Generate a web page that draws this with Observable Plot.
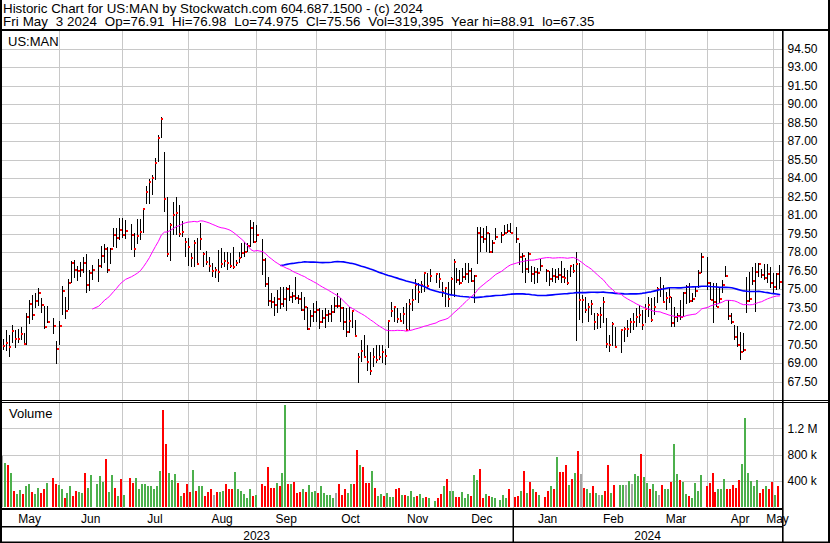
<!DOCTYPE html>
<html><head><meta charset="utf-8">
<script src="https://cdn.jsdelivr.net/npm/d3@7"></script>
<script src="https://cdn.jsdelivr.net/npm/@observablehq/plot@0.6"></script>
<style>
html,body{margin:0;padding:0;background:#fff;}
#chart{position:relative;width:830px;height:543px;overflow:hidden;background:#fff;}
</style></head>
<body><div id="chart"></div>
<script>
// ---------- DATA ----------
const ticker = "US:MAN";
const titleLine1 = "Historic Chart for US:MAN by Stockwatch.com 604.687.1500 - (c) 2024";
const titleLine2 = "Fri May  3 2024  Op=76.91  Hi=76.98  Lo=74.975  Cl=75.56  Vol=319,395  Year hi=88.91  lo=67.35";
const startDate = "2023-05-05";
const endDate = "2024-05-03";
const holidays = ["2023-05-29","2023-06-19","2023-07-04","2023-09-04","2023-11-23","2023-12-25","2024-01-01","2024-01-15","2024-02-19","2024-03-29"];
const priceTicks = [67.5,69,70.5,72,73.5,75,76.5,78,79.5,81,82.5,84,85.5,87,88.5,90,91.5,93,94.5];
const volumeTicks = [400000, 800000, 1200000];
const volumeTickLabels = ["400 k", "800 k", "1.2 M"];

const high = [
70.92,71.68,71.27,72.05,71.68,71.73,71.89,71.41,73.03,74.11,74.51,74.70,75.05,74.24,73.62,73.62,72.62,70.81,
72.43,75.24,74.38,75.81,77.27,77.35,76.86,77.22,77.62,77.84,76.54,76.95,77.41,78.51,78.65,78.43,78.35,79.92,79.92,80.73,80.73,
80.59,80.27,79.51,80.68,80.68,81.54,83.35,83.89,84.24,85.59,87.49,88.91,86.08,82.49,80.32,82.03,82.43,81.81,80.54,79.11,
79.11,77.89,78.97,79.11,80.32,78.03,78.11,77.62,77.14,76.76,78.16,78.30,78.03,78.03,77.89,78.43,77.35,78.03,78.70,78.84,78.70,80.59,80.41,
80.19,79.03,77.49,76.00,74.70,74.38,74.92,75.19,75.14,75.19,75.32,74.78,75.95,74.51,74.78,74.38,73.57,73.30,73.84,74.03,
73.43,73.30,73.49,73.30,73.70,74.38,74.70,74.24,73.57,73.43,73.57,73.30,72.49,69.78,70.86,71.27,70.46,69.92,70.19,70.46,70.46,70.46,
70.11,72.49,73.97,73.62,73.43,73.03,73.51,73.89,74.16,74.97,75.81,75.51,75.68,76.41,76.27,76.59,76.32,76.27,75.59,75.14,75.59,
76.00,77.41,76.68,76.54,76.68,77.08,77.08,76.68,76.14,80.05,80.05,79.92,80.11,79.51,78.97,79.92,79.65,80.19,80.27,80.32,
80.05,78.70,77.95,77.49,78.03,76.86,76.81,76.68,77.41,76.59,76.49,76.68,76.59,76.68,77.24,76.68,76.54,76.95,77.03,78.00,77.08,
74.51,74.38,73.84,74.11,73.03,73.03,73.57,74.38,72.62,71.27,72.35,71.95,71.73,71.95,72.49,72.62,73.03,73.43,73.70,73.30,
73.78,74.38,74.24,74.38,75.14,76.00,75.32,74.78,75.05,74.38,73.57,73.03,74.11,74.78,75.32,75.46,74.65,75.19,76.54,77.89,
77.62,75.59,75.46,75.46,75.19,75.73,76.86,74.11,73.03,72.08,72.00,71.54,71.41,76.00,76.41,76.81,77.08,77.14,76.59,77.03,77.03,76.81,
76.32,76.27,76.98];

const low = [
70.05,70.00,69.46,70.59,70.19,70.59,70.86,70.43,70.46,72.16,72.49,73.43,73.62,73.08,71.78,72.27,71.32,68.89,
70.46,72.89,72.59,73.30,75.46,75.86,75.68,76.00,76.27,74.65,74.86,75.73,75.59,76.68,77.08,76.32,77.03,78.43,78.35,78.97,79.11,
79.08,78.16,77.62,78.65,78.97,79.51,81.86,81.86,82.62,83.84,85.32,87.22,81.27,77.62,77.30,79.38,79.38,79.24,79.24,77.62,
76.89,76.81,76.81,76.95,78.16,76.81,76.95,76.41,75.95,75.86,75.59,76.68,76.76,76.54,76.68,76.59,76.89,77.08,77.49,77.62,78.03,78.43,78.70,
78.84,76.14,75.14,73.65,73.43,72.81,73.03,73.35,73.51,73.24,74.05,73.84,74.11,73.78,73.24,72.49,71.68,71.95,72.35,72.35,
71.73,72.22,71.86,72.35,72.35,73.03,73.43,72.35,71.68,71.14,71.41,71.81,71.08,67.35,69.11,69.51,68.38,68.03,68.70,68.97,69.24,68.97,
68.84,70.19,72.76,72.35,72.27,72.35,72.16,71.68,71.68,73.24,74.11,73.89,74.65,74.78,75.00,75.57,75.46,75.05,74.38,73.51,73.51,
74.51,74.38,75.46,75.32,75.59,75.73,75.46,75.59,73.89,77.03,78.03,78.70,78.03,77.95,77.89,78.97,78.76,79.38,79.51,79.51,
78.70,76.95,76.32,75.46,76.32,75.59,75.41,75.46,76.49,75.59,75.24,75.59,75.46,75.73,75.51,75.46,75.32,76.00,76.27,70.81,72.49,
72.22,73.03,72.35,72.89,71.68,71.73,71.81,72.22,70.19,69.92,70.38,70.27,69.78,70.73,71.08,71.41,71.68,71.95,72.22,71.68,
72.27,72.76,72.35,72.89,73.84,74.38,73.84,73.30,73.84,71.95,71.89,72.35,72.49,72.76,73.78,73.89,73.97,74.32,75.05,76.27,
74.92,74.11,72.27,73.57,73.84,74.65,76.00,72.49,72.16,70.86,70.32,69.24,69.92,73.03,73.95,75.32,73.16,76.00,75.86,75.73,75.46,75.05,
74.70,74.92,74.975];

const close = [
70.41,70.65,70.32,71.62,70.92,70.97,71.35,70.54,72.76,73.81,72.92,74.05,74.70,73.73,71.95,72.35,72.03,70.16,
72.03,74.86,73.24,75.46,77.14,76.54,76.43,76.54,77.14,75.30,76.32,76.54,76.89,77.70,78.27,76.54,78.27,79.41,79.16,79.78,79.41,
79.73,79.41,78.27,79.30,79.65,81.46,82.89,83.70,83.97,85.24,87.27,88.78,82.32,77.84,80.19,81.00,81.19,79.46,79.62,78.84,
78.43,77.51,78.76,77.03,79.08,77.84,77.19,76.89,76.49,76.54,76.41,77.05,77.27,77.11,76.89,76.76,77.14,77.54,77.92,78.03,78.51,79.92,78.81,
79.41,77.35,75.43,74.03,73.92,73.73,74.19,73.78,74.19,75.03,74.38,74.43,74.30,74.19,73.30,73.57,71.76,72.81,73.11,73.30,
72.35,72.62,72.89,73.00,73.11,73.65,73.65,73.43,72.35,71.54,72.43,73.24,71.19,69.51,70.00,69.51,69.11,68.38,69.51,69.24,69.51,69.92,
69.59,72.43,73.24,73.51,72.57,72.43,73.00,71.68,73.78,74.11,75.30,74.76,75.30,76.32,75.24,76.08,76.22,75.81,74.76,75.11,74.19,
75.84,77.19,75.73,75.51,76.00,76.19,76.49,75.68,76.08,79.57,79.24,79.03,79.57,77.97,78.76,79.24,79.41,79.57,79.70,79.51,
79.08,77.62,77.70,76.65,77.86,76.24,76.41,76.32,76.89,76.49,75.84,76.05,76.00,76.16,75.95,75.92,75.51,76.89,76.49,77.05,74.11,
74.11,73.30,73.57,73.78,72.35,72.89,72.89,73.97,70.57,70.46,72.14,70.32,71.68,71.73,71.73,72.35,72.35,72.76,72.86,72.11,
73.35,73.70,72.49,73.57,75.03,75.03,73.95,74.27,74.38,72.27,72.76,72.81,72.70,74.70,75.14,74.05,74.19,74.81,76.32,77.62,
75.51,74.11,73.95,73.57,74.19,75.32,76.08,72.81,72.32,71.14,70.46,69.89,70.05,74.03,74.22,75.68,76.41,77.03,76.14,75.86,76.22,75.46,
75.19,76.22,75.56];

// volume in thousands of shares
const volumeK = [
774,667,636,513,251,205,262,200,313,344,236,205,297,221,282,369,436,344,
328,282,144,221,313,174,246,231,221,513,297,482,344,467,374,728,236,482,297,174,420,
190,436,359,436,282,344,344,313,313,267,313,544,1482,959,513,405,497,359,174,221,
344,236,559,251,313,313,174,236,267,190,236,236,251,344,267,282,528,267,251,205,144,282,174,
190,344,313,605,297,297,359,313,513,1559,344,344,374,221,236,267,236,328,236,251,
221,313,221,190,190,144,221,344,190,282,221,344,344,866,636,605,359,359,544,297,174,205,
174,221,159,159,267,297,190,190,174,251,159,174,205,144,159,144,97,144,205,313,420,
251,251,159,159,236,144,205,174,482,405,574,144,205,174,159,144,113,190,144,282,
159,174,251,544,221,374,267,236,190,159,251,313,267,759,528,528,636,328,420,513,851,
497,297,267,221,313,221,190,190,251,636,221,328,328,328,328,390,344,497,467,805,
451,359,267,344,251,190,328,267,267,374,959,497,405,374,205,174,144,359,251,482,
313,359,513,236,282,282,420,282,267,328,297,405,651,1359,513,390,313,405,221,267,313,282,
374,190,319];

// volume bar colour as seen: u = up (green), d = down (red), n = unchanged (grey)
const dirMay23 = ["n","u","d","u","d","u","u","d","u","u","d","u","u","d","d","u","d","d"];
const dirJun23 = ["u","u","d","u","u","d","d","u","u","d","u","u","u","u","u","d","u","u","d","u","d"];
const dirJul23 = ["u","d","d","u","u","u","u","u","u","u","u","u","d","d","u","u","u","d","u","d"];
const dirAug23 = ["d","d","u","d","u","u","d","d","d","n","d","u","u","d","d","d","u","u","u","u","u","u","d"];
const dirSep23 = ["u","d","d","d","d","d","u","d","u","u","d","u","d","d","d","u","d","u","u","u"];
const dirOct23 = ["d","u","u","u","u","u","n","d","d","d","u","u","d","d","u","d","d","d","u","d","u","u"];
const dirNov23 = ["d","u","u","u","d","d","u","d","u","u","u","d","u","u","d","u","u","d","d","u","d"];
const dirDec23 = ["u","u","d","d","u","u","u","d","u","u","d","d","u","d","u","u","u","u","u","d"];
const dirJan24 = ["d","d","u","d","u","d","u","d","u","d","d","u","d","u","d","d","d","u","d","u","d"];
const dirFeb24 = ["n","d","u","u","d","u","n","u","d","d","u","d","u","u","n","u","n","u","u","d"];
const dirMar24 = ["u","u","d","u","u","n","d","u","u","d","u","u","d","u","u","d","u","u","u","u"];
const dirApr24 = ["d","d","d","d","u","u","u","d","d","d","d","d","u","u","u","u","u","u","d","d","u","d"];
const dirMay24 = ["d","u","d"];
const direction = [].concat(dirMay23, dirJun23, dirJul23, dirAug23, dirSep23, dirOct23, dirNov23, dirDec23, dirJan24, dirFeb24, dirMar24, dirApr24, dirMay24);

// ---------- BUILD ----------
const FONT = "'Liberation Sans', Arial, Helvetica, sans-serif";
const parse = d3.utcParse("%Y-%m-%d");
const fmt = d3.utcFormat("%Y-%m-%d");
const weekdays = d3.utcDays(parse(startDate), d3.utcDay.offset(parse(endDate), 1)).filter(d => d.getUTCDay() % 6 !== 0);
const wIndex = new Map(weekdays.map((d, i) => [fmt(d), i]));
const tradingDays = weekdays.filter(d => !holidays.includes(fmt(d)));
const data = tradingDays.map((d, i) => ({
  date: d, w: wIndex.get(fmt(d)), high: high[i], low: low[i], close: close[i],
  vol: volumeK[i] * 1000, dir: direction[i] || "n"
}));

// month gridlines: first weekday slot of each month (weekend starts fall back to the Friday before)
const monthStarts = d3.utcMonths(d3.utcMonth.ceil(parse(startDate)), parse(endDate));
const slotOf = d => { const day = d.getUTCDay(); const s = day === 6 ? d3.utcDay.offset(d, -1) : day === 0 ? d3.utcDay.offset(d, -2) : d; return wIndex.get(fmt(s)); };
const monthW = monthStarts.map(slotOf);

const xScale = {type: "linear", domain: [0, 260], range: [2.6, 779]};
const style = {fontFamily: FONT, fontSize: "12px", color: "#000", background: "none", overflow: "visible"};
const GRID = "#c8c8c8";

const price = Plot.plot({
  width: 830, height: 369, marginLeft: 0, marginRight: 48, marginTop: 0, marginBottom: 0,
  x: {...xScale, axis: null},
  y: {domain: [66, 96], range: [369, -1], axis: null},
  style,
  marks: [
    Plot.ruleY(priceTicks, {stroke: GRID, shapeRendering: "crispEdges"}),
    Plot.ruleX(monthW, {stroke: GRID, shapeRendering: "crispEdges"}),
    Plot.ruleX(data, {x: "w", y1: "low", y2: "high", stroke: "#000", shapeRendering: "crispEdges"}),
    Plot.rect(data, {x1: "w", x2: "w", y1: "close", y2: "close", insetLeft: 0.5, insetRight: -2.5, insetTop: -1, insetBottom: -1, fill: "#ff0000", shapeRendering: "crispEdges"}),
    Plot.lineY(data, Plot.windowY({k: 90, anchor: "end", strict: true, reduce: "mean"}, {x: "w", y: "close", stroke: "#0000ff", strokeWidth: 1.6})),
    Plot.lineY(data, Plot.windowY({k: 30, anchor: "end", strict: true, reduce: "mean"}, {x: "w", y: "close", stroke: "#ff00ff", strokeWidth: 1})),
    Plot.axisY(priceTicks, {anchor: "right", tickSize: 0, tickPadding: 5, tickFormat: d => d.toFixed(2), label: null, fill: "#000"})
  ]
});
price.style.position = "absolute"; price.style.left = "0px"; price.style.top = "31px";

const volume = Plot.plot({
  width: 830, height: 105, marginLeft: 0, marginRight: 48, marginTop: 0, marginBottom: 0,
  x: {...xScale, axis: null},
  y: {domain: [0, 1600000], range: [104, -0.9], axis: null},
  color: {domain: ["u", "d", "n"], range: ["#4cb04c", "#ff0000", "#a6a6a6"]},
  style,
  marks: [
    Plot.ruleY(volumeTicks, {stroke: GRID, shapeRendering: "crispEdges"}),
    Plot.ruleX(monthW, {stroke: GRID, shapeRendering: "crispEdges"}),
    Plot.rect(data, {x1: "w", x2: "w", y1: 0, y2: "vol", fill: "dir", insetLeft: -1.8, insetRight: -0.2, shapeRendering: "crispEdges"}),
    Plot.axisY(volumeTicks, {anchor: "right", tickSize: 0, tickPadding: 5, tickFormat: d => volumeTickLabels[volumeTicks.indexOf(d)], label: null, fill: "#000"})
  ]
});
volume.style.position = "absolute"; volume.style.left = "0px"; volume.style.top = "403px";

const root = document.getElementById("chart");
root.append(price, volume);

// overlay: frame lines, titles, time axis labels
const xs = price.scale("x");
const ov = d3.create("svg").attr("width", 830).attr("height", 543)
  .style("position", "absolute").style("left", "0px").style("top", "0px")
  .style("font-family", FONT).style("overflow", "visible");
const frame = [[0,0,2,543],[828,0,2,543],[0,29,830,2],[0,400,830,1],[0,402,830,1],[782,29,1.6,514],[0,508,782,2],[0,526,782,1.5],[0,541.5,830,1.5]];
ov.append("g").selectAll("rect").data(frame).join("rect")
  .attr("x", d => d[0]).attr("y", d => d[1]).attr("width", d => d[2]).attr("height", d => d[3]).attr("fill", "#000");

const t = (x, y, s, size, anchor = "start") => ov.append("text").attr("x", x).attr("y", y)
  .attr("font-size", size).attr("text-anchor", anchor).attr("fill", "#000")
  .attr("xml:space", "preserve").style("white-space", "pre").text(s);
t(3, 12.5, titleLine1, 13.33);
t(3, 26, titleLine2, 13.33).attr("letter-spacing", 0.1);
t(8, 46, ticker, 13);
t(9, 417.5, "Volume", 13);

// month and year labels centred between month boundaries
const wLeft = xs.invert(0), wRight = xs.invert(782);
const bounds = [wLeft, ...monthW, wRight];
const labelMonths = [d3.utcMonth.floor(parse(startDate)), ...monthStarts];
const fmtMonth = d3.utcFormat("%b");
labelMonths.forEach((d, i) => t(xs.apply((bounds[i] + bounds[i + 1]) / 2), 523, fmtMonth(d), 12, "middle"));
const janIdx = monthStarts.findIndex(d => d.getUTCMonth() === 0);
const janW = monthW[janIdx];
const years = [[wLeft, janW, d3.utcFormat("%Y")(parse(startDate))], [janW, wRight, d3.utcFormat("%Y")(parse(endDate))]];
years.forEach(([a, b, y]) => t(xs.apply((a + b) / 2), 540, y, 12, "middle"));
ov.append("rect").attr("x", Math.round(xs.apply(janW)) - 0.5).attr("y", 510).attr("width", 1.5).attr("height", 32).attr("fill", "#000");

root.append(ov.node());
</script>
</body></html>
